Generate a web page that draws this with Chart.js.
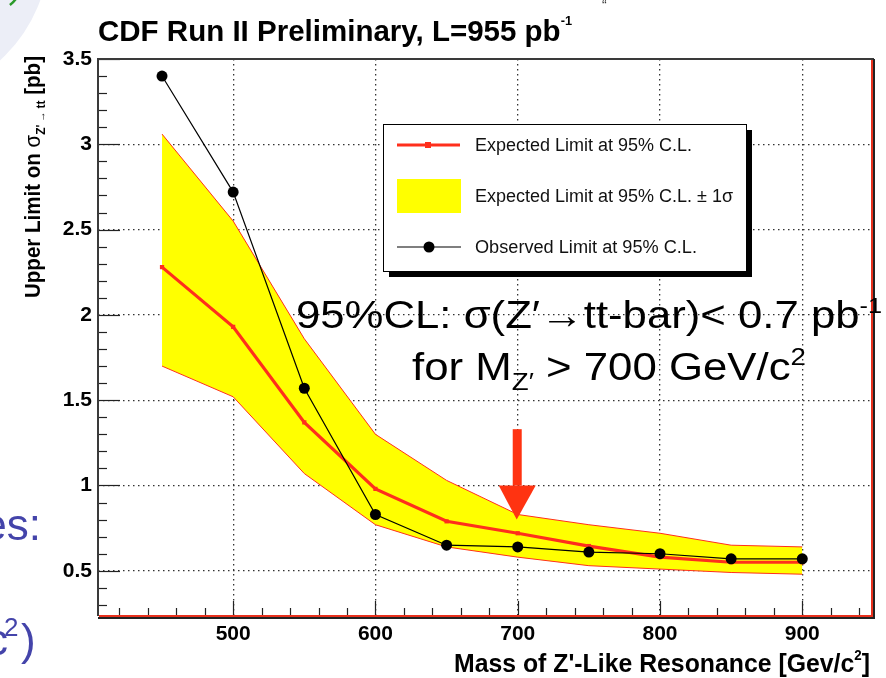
<!DOCTYPE html>
<html>
<head>
<meta charset="utf-8">
<script src="https://cdn.jsdelivr.net/npm/chart.js@4"></script>
<style>
  html, body { margin: 0; padding: 0; background: #fff; }
  #wrap { width: 886px; height: 678px; position: relative; }
</style>
</head>
<body>
<div id="wrap"><canvas id="limitChart" width="886" height="678"></canvas></div>
<script>
const masses = [450, 500, 550, 600, 650, 700, 750, 800, 850, 900];
const expected = [2.28, 1.93, 1.37, 0.98, 0.79, 0.72, 0.645, 0.58, 0.55, 0.55];
const bandUp = [3.06, 2.55, 1.86, 1.30, 1.03, 0.83, 0.77, 0.72, 0.65, 0.64];
const bandLow = [1.70, 1.52, 1.07, 0.77, 0.64, 0.58, 0.53, 0.51, 0.49, 0.48];
const observed = [3.40, 2.72, 1.57, 0.83, 0.65, 0.64, 0.61, 0.60, 0.57, 0.57];
const xTicks = [500, 600, 700, 800, 900];
const yTicks = [0.5, 1, 1.5, 2, 2.5, 3, 3.5];

const RED = '#ff2f1c';
const SANS = '"Liberation Sans", Arial, Helvetica, sans-serif';
const NARROW = '"Liberation Sans Narrow", "Arial Narrow", "Liberation Sans", Arial, sans-serif';

function pts(ys) {
    return masses.map((m, i) => ({ x: m, y: ys[i] }));
}

// draws a list of text runs (for sub/superscripts), stretched to a given width
function drawRuns(ctx, runs, x, y, targetW, align) {
    let total = 0;
    runs.forEach(r => {
        ctx.font = r.font;
        r.w = ctx.measureText(r.t).width;
        total += r.w;
    });
    const s = targetW ? targetW / total : 1;
    ctx.save();
    ctx.translate(align === 'right' ? x - total * s : x, y);
    ctx.scale(s, 1);
    ctx.textAlign = 'left';
    ctx.textBaseline = 'alphabetic';
    let cx = 0;
    runs.forEach(r => {
        ctx.font = r.font;
        ctx.fillText(r.t, cx, r.dy || 0);
        cx += r.w;
    });
    ctx.restore();
}

const slidePlugin = {
    id: 'slide',
    beforeDraw(chart) {
        const ctx = chart.ctx;
        ctx.save();
        // bits of the slide behind the plot
        ctx.fillStyle = '#eceef7';
        ctx.beginPath();
        ctx.arc(-100, -50, 149, 0, Math.PI * 2);
        ctx.fill();
        ctx.strokeStyle = '#2a9a2a';
        ctx.lineWidth = 2.5;
        ctx.beginPath();
        ctx.arc(-10, -20, 32, 0.15, 0.9);
        ctx.stroke();
        ctx.fillStyle = '#4444aa';
        ctx.font = '44px ' + SANS;
        ctx.textAlign = 'right';
        ctx.fillText('es:', 41, 540);
        ctx.textAlign = 'left';
        ctx.fillText('c', -14, 655);
        ctx.font = '26px ' + SANS;
        ctx.fillText('2', 4, 636);
        ctx.font = '44px ' + SANS;
        ctx.fillText(')', 21, 655);
        ctx.fillStyle = '#333';
        ctx.font = '14px ' + SANS;
        ctx.fillText('\u201C', 602, 10);
        ctx.restore();
    },
    afterDatasetsDraw(chart) {
        const ctx = chart.ctx;
        const xs = chart.scales.x, ys = chart.scales.y;
        const a = chart.chartArea;
        ctx.save();
        ctx.strokeStyle = '#222';
        ctx.lineWidth = 1.2;
        // y axis ticks, drawn inward
        for (let k = 3; k <= 35; k++) {
            const py = Math.round(ys.getPixelForValue(k / 10)) + 0.5;
            const len = k % 5 === 0 ? 22 : 9;
            ctx.beginPath();
            ctx.moveTo(a.left, py);
            ctx.lineTo(a.left + len, py);
            ctx.stroke();
        }
        // x axis ticks
        for (let v = 420; v <= 940; v += 20) {
            const px = Math.round(xs.getPixelForValue(v)) + 0.5;
            const len = v % 100 === 0 ? 15 : 8;
            ctx.beginPath();
            ctx.moveTo(px, a.bottom);
            ctx.lineTo(px, a.bottom - len);
            ctx.stroke();
        }
        // arrow at 700
        const ax = xs.getPixelForValue(700);
        const yTop = ys.getPixelForValue(1.33);
        const yBase = ys.getPixelForValue(1.0);
        const yTip = ys.getPixelForValue(0.8);
        ctx.fillStyle = '#ff3311';
        ctx.fillRect(ax - 5, yTop, 9, yBase - yTop);
        ctx.beginPath();
        ctx.moveTo(ax - 19, yBase);
        ctx.lineTo(ax + 18, yBase);
        ctx.lineTo(ax - 1, yTip);
        ctx.closePath();
        ctx.fill();
        ctx.restore();
    },
    afterDraw(chart) {
        const ctx = chart.ctx;
        const a = chart.chartArea;
        ctx.save();
        // frame
        ctx.lineWidth = 2;
        ctx.strokeStyle = '#3a3a3a';
        ctx.beginPath();
        ctx.moveTo(a.left, a.bottom);
        ctx.lineTo(a.left, a.top);
        ctx.lineTo(a.right + 2, a.top);
        ctx.stroke();
        ctx.strokeStyle = '#222';
        ctx.beginPath();
        ctx.moveTo(a.left, a.bottom + 2);
        ctx.lineTo(a.right + 2, a.bottom + 2);
        ctx.lineTo(a.right + 2, a.top);
        ctx.stroke();
        ctx.strokeStyle = '#e8301c';
        ctx.beginPath();
        ctx.moveTo(a.left + 1, a.bottom);
        ctx.lineTo(a.right, a.bottom);
        ctx.lineTo(a.right, a.top + 1);
        ctx.stroke();

        // legend box
        const bx = 383, by = 124, bw = 363, bh = 147;
        ctx.fillStyle = '#000';
        ctx.fillRect(bx + 6, by + 6, bw, bh);
        ctx.fillStyle = '#fff';
        ctx.fillRect(bx, by, bw, bh);
        ctx.strokeStyle = '#000';
        ctx.lineWidth = 1;
        ctx.strokeRect(bx + 0.5, by + 0.5, bw, bh);

        ctx.strokeStyle = RED;
        ctx.lineWidth = 3;
        ctx.beginPath();
        ctx.moveTo(397, 145);
        ctx.lineTo(460, 145);
        ctx.stroke();
        ctx.fillStyle = RED;
        ctx.fillRect(425, 142, 6, 6);
        ctx.fillStyle = '#ffff00';
        ctx.fillRect(397, 179, 64, 34);
        ctx.strokeStyle = '#000';
        ctx.lineWidth = 1.2;
        ctx.beginPath();
        ctx.moveTo(397, 247);
        ctx.lineTo(461, 247);
        ctx.stroke();
        ctx.fillStyle = '#000';
        ctx.beginPath();
        ctx.arc(429, 247, 5.5, 0, Math.PI * 2);
        ctx.fill();

        ctx.fillStyle = '#111';
        const lf = '18px ' + SANS;
        drawRuns(ctx, [{ t: 'Expected Limit at 95% C.L.', font: lf }], 475, 151, 217);
        drawRuns(ctx, [{ t: 'Expected Limit at 95% C.L. \u00B1 1\u03C3', font: lf }], 475, 202, 258);
        drawRuns(ctx, [{ t: 'Observed Limit at 95% C.L.', font: lf }], 475, 253, 222);

        // titles
        ctx.fillStyle = '#000';
        drawRuns(ctx, [
            { t: 'CDF Run II Preliminary, L=955 pb', font: 'bold 30px ' + NARROW },
            { t: '-1', font: 'bold 13px ' + NARROW, dy: -16 }
        ], 98, 41, 474);

        drawRuns(ctx, [
            { t: 'Mass of Z\'-Like Resonance [Gev/c', font: 'bold 26px ' + NARROW },
            { t: '2', font: 'bold 14px ' + NARROW, dy: -12 },
            { t: ']', font: 'bold 26px ' + NARROW }
        ], 870, 672, 416, 'right');

        ctx.save();
        ctx.translate(40, 298);
        ctx.rotate(-Math.PI / 2);
        drawRuns(ctx, [
            { t: 'Upper Limit on ', font: 'bold 22px ' + NARROW },
            { t: '\u03C3', font: '22px ' + SANS },
            { t: 'Z\'', font: 'bold 13px ' + NARROW, dy: 5 },
            { t: ' \u2192 ', font: '11px ' + SANS, dy: 5 },
            { t: 'tt', font: 'bold 13px ' + NARROW, dy: 5 },
            { t: ' [pb]', font: 'bold 22px ' + NARROW }
        ], 0, 0, 242);
        ctx.restore();

        // annotation
        drawRuns(ctx, [
            { t: '95%CL: \u03C3(Z\u2032\u2192tt-bar)< 0.7 pb', font: '38px ' + SANS },
            { t: '-1', font: '22px ' + SANS, dy: -15 }
        ], 296, 328, 586);
        drawRuns(ctx, [
            { t: 'for M', font: '38px ' + SANS },
            { t: 'Z\u2032', font: '24px ' + SANS, dy: 10 },
            { t: ' > 700 GeV/c', font: '38px ' + SANS },
            { t: '2', font: '24px ' + SANS, dy: -15 }
        ], 412, 380, 394);
        ctx.restore();
    }
};

const ctx = document.getElementById('limitChart').getContext('2d');

new Chart(ctx, {
    type: 'line',
    data: {
        datasets: [
            {
                label: 'Expected Limit at 95% C.L. \u00B1 1\u03C3',
                data: pts(bandUp),
                borderColor: RED,
                borderWidth: 1,
                backgroundColor: '#ffff00',
                fill: '+1',
                pointRadius: 0,
                order: 3
            },
            {
                label: 'band low',
                data: pts(bandLow),
                borderColor: RED,
                borderWidth: 1,
                fill: false,
                pointRadius: 0,
                order: 2
            },
            {
                label: 'Expected Limit at 95% C.L.',
                data: pts(expected),
                borderColor: RED,
                borderWidth: 3.2,
                pointStyle: 'rect',
                pointRadius: 3,
                pointBackgroundColor: RED,
                pointBorderWidth: 0,
                fill: false,
                order: 1
            },
            {
                label: 'Observed Limit at 95% C.L.',
                data: pts(observed),
                borderColor: '#000',
                borderWidth: 1.2,
                pointRadius: 5.5,
                pointBackgroundColor: '#000',
                pointBorderWidth: 0,
                fill: false,
                order: 0
            }
        ]
    },
    options: {
        responsive: false,
        animation: false,
        events: [],
        layout: { padding: { top: 59, right: 14, left: 0, bottom: 0 } },
        plugins: {
            legend: { display: false },
            tooltip: { enabled: false },
            title: { display: false }
        },
        elements: { line: { tension: 0 } },
        scales: {
            x: {
                type: 'linear',
                min: 405,
                max: 949,
                afterFit(scale) { scale.height = 62; },
                afterBuildTicks(scale) { scale.ticks = xTicks.map(v => ({ value: v })); },
                border: { display: false, dash: [1.5, 3.5] },
                grid: { color: '#333', lineWidth: 1.3, drawTicks: false },
                ticks: {
                    padding: 6,
                    color: '#000',
                    font: { family: SANS, size: 21, weight: 'bold' }
                }
            },
            y: {
                type: 'linear',
                min: 0.235,
                max: 3.5,
                afterFit(scale) { scale.width = 98; },
                afterBuildTicks(scale) { scale.ticks = yTicks.map(v => ({ value: v })); },
                border: { display: false, dash: [1.5, 3.5] },
                grid: { color: '#333', lineWidth: 1.3, drawTicks: false },
                ticks: {
                    padding: 6,
                    color: '#000',
                    font: { family: SANS, size: 21, weight: 'bold' },
                    callback: v => String(v)
                }
            }
        }
    },
    plugins: [slidePlugin]
});
</script>
</body>
</html>
